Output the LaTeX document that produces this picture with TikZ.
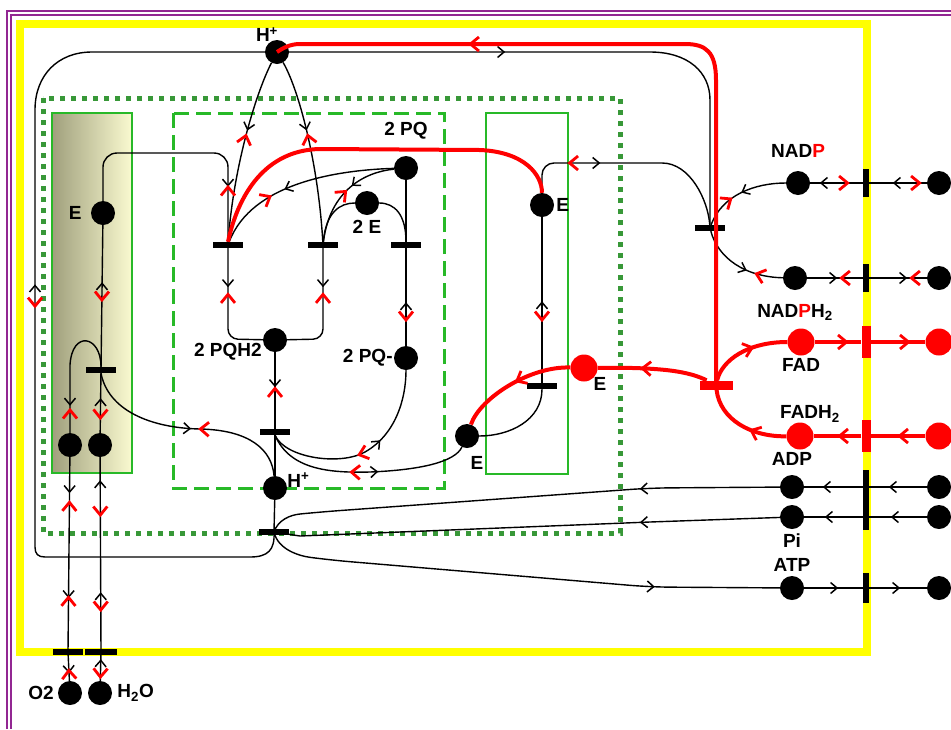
\documentclass[tikz,border=0pt]{standalone}
\usepackage{fontspec}
\setmainfont{Liberation Sans}
\usepackage{xcolor}
\usetikzlibrary{arrows.meta, positioning, backgrounds, decorations.markings}

\definecolor{memyellow}{RGB}{255,255,0}
\definecolor{frameviolet}{RGB}{146,38,146}
\definecolor{dotgreen}{RGB}{56,152,56}
\definecolor{boxgreen}{RGB}{40,185,40}
\definecolor{oliveleft}{RGB}{160,160,125}
\definecolor{oliveright}{RGB}{250,250,208}

\tikzset{
    placenode/.style={circle, fill=black, minimum size=24pt, inner sep=0pt},
    redplace/.style={circle, fill=red, minimum size=27pt, inner sep=0pt},
    transbar/.style={rectangle, fill=black, minimum width=30pt, minimum height=6pt, inner sep=0pt},
    membar/.style={rectangle, fill=black, minimum width=6pt, minimum height=28pt, inner sep=0pt},
    redbar/.style={rectangle, fill=red, minimum width=9pt, minimum height=32pt, inner sep=0pt},
    lbl/.style={inner sep=0pt, font=\fontsize{19}{21}\selectfont\bfseries},
    bk/.tip={Straight Barb[length=6.5pt, width=11pt, line width=1.5pt, color=black]},
    rd/.tip={Straight Barb[length=8.5pt, width=14pt, line width=2.8pt, color=red]},
    fwdb/.style={postaction={decorate, decoration={markings, mark=at position #1 with {\arrow{bk}}}}},
    bkwb/.style={postaction={decorate, decoration={markings, mark=at position #1 with {\arrowreversed{bk}}}}},
    fwdr/.style={postaction={decorate, decoration={markings, mark=at position #1 with {\arrow{rd}}}}},
    bkwr/.style={postaction={decorate, decoration={markings, mark=at position #1 with {\arrowreversed{rd}}}}}
}

\begin{document}
\begin{tikzpicture}[x=1pt, y=-1pt,
    arcb/.style={draw=black, line width=1.4pt},
    redarc/.style={draw=red, line width=4pt}]

    \useasboundingbox (0,0) rectangle (951,729);

    % places
    \node (hplus) [placenode] at (277,52) {};
    \node (eleft) [placenode] at (103,213) {};
    \node (o2in) [placenode] at (70,445) {};
    \node (h2oin) [placenode] at (100,445) {};
    \node (o2) [placenode] at (70,693) {};
    \node (h2o) [placenode] at (100,693) {};
    \node (pq) [placenode] at (406,168) {};
    \node (twoe) [placenode] at (367,203) {};
    \node (pqh) [placenode] at (275,340) {};
    \node (pqm) [placenode] at (406,358) {};
    \node (hlow) [placenode] at (275,488) {};
    \node (eright) [placenode] at (542,205) {};
    \node (elow) [placenode] at (467,436) {};
    \node (ered) [redplace] at (584,368) {};
    \node (nadp) [placenode] at (798,183) {};
    \node (nadpout) [placenode] at (939,183) {};
    \node (nadph) [placenode] at (795,278) {};
    \node (nadphout) [placenode] at (939,278) {};
    \node (fad) [redplace] at (801,342) {};
    \node (fadout) [redplace] at (939,342) {};
    \node (fadh) [redplace] at (800,436) {};
    \node (fadhout) [redplace] at (939,436) {};
    \node (adp) [placenode] at (792,487) {};
    \node (adpout) [placenode] at (939,487) {};
    \node (pi) [placenode] at (792,517) {};
    \node (piout) [placenode] at (939,517) {};
    \node (atp) [placenode] at (792,588) {};
    \node (atpout) [placenode] at (939,588) {};

    % transitions
    \node (tleft) [transbar] at (101,370) {};
    \node (tq1) [transbar] at (228,245) {};
    \node (tq2) [transbar] at (323,245) {};
    \node (tq3) [transbar] at (406,245) {};
    \node (tpqh) [transbar] at (275,432) {};
    \node (tatp) [transbar] at (274,532) {};
    \node (tcyt) [transbar] at (542,386) {};
    \node (tnadp) [transbar] at (710,228) {};
    \node (tfad) [transbar, fill=red, minimum width=33pt, minimum height=9pt] at (716,385) {};
    \node (mnadp) [membar] at (866,183) {};
    \node (mnadph) [membar] at (866,278) {};
    \node (mfad) [redbar] at (866,342) {};
    \node (mfadh) [redbar] at (866,436) {};
    \node (madp) [membar, minimum height=60pt] at (866,500) {};
    \node (matp) [membar, minimum height=30pt] at (866,588) {};
    \node (mo2) [transbar] at (68,652) {};
    \node (mh2o) [transbar, minimum width=32pt] at (101,652) {};

    % labels
    \node [lbl, above=-2pt of hplus, xshift=-10pt] {H\textsuperscript{+}};
    \node [lbl, left=9pt of eleft] {E};
    \node [lbl, left=4pt of o2] {O2};
    \node [lbl, right=5pt of h2o] {H\textsubscript{2}O};
    \node [lbl, above=16pt of pq] {2 PQ};
    \node [lbl, below=5pt of twoe] {2 E};
    \node [lbl, left=1pt of pqh, yshift=-12pt] {2 PQH2};
    \node [lbl, left=1pt of pqm] {2 PQ-};
    \node [lbl, right=0pt of hlow, yshift=8pt] {H\textsuperscript{+}};
    \node [lbl, right=2pt of eright] {E};
    \node [lbl, below=8pt of elow, xshift=10pt] {E};
    \node [lbl, below=-4pt of ered, xshift=16pt] {E};
    \node [lbl, above=13pt of nadp] {NAD\textcolor{red}{P}};
    \node [lbl, below=14pt of nadph] {NAD\textcolor{red}{P}H\textsubscript{2}};
    \node [lbl, below=3pt of fad] {FAD};
    \node [lbl, above=0pt of fadh, xshift=10pt] {FADH\textsubscript{2}};
    \node [lbl, above=9pt of adp] {ADP};
    \node [lbl, below=4pt of pi] {Pi};
    \node [lbl, above=4pt of atp] {ATP};

    \begin{scope}[on background layer]
        % frames
        \draw[frameviolet, line width=2.5pt, double=white, double distance=1.5pt] (9,729) -- (9,13) -- (951,13);
        \draw[memyellow, line width=8pt] (20,24) rectangle (867,652);
        % compartments
        \draw[dotgreen, line width=5pt, dash pattern=on 5pt off 6pt] (43,98) rectangle (620,533);
        \path[draw=boxgreen, line width=2pt, left color=oliveleft, right color=oliveright] (52,113) rectangle (132,473);
        \draw[boxgreen, line width=2pt] (486,113) rectangle (568,474);
        \draw[boxgreen, line width=3pt, dash pattern=on 15pt off 7pt] (173,113) rectangle (444,488);

        % proton loop
        \draw[arcb, fwdb=525pt, bkwr=501pt] (tatp.center) .. controls (275,550) and (268,557) .. (250,557) -- (45,557) .. controls (38,557) and (35,554) .. (35,547) -- (35,110) .. controls (35,75) and (58,52) .. (92,52) -- (hplus);
        \draw[arcb, fwdb=216pt] (hplus) -- (650,52) .. controls (688,52) and (710,72) .. (710,100) -- (tnadp);
        % H+ into the quinone cycle
        \draw[arcb, fwdb=72pt, bkwr=75pt] (hplus) .. controls (255,95) and (233,170) .. (tq1);
        \draw[arcb, fwdb=72pt, bkwr=75pt] (hplus) .. controls (298,88) and (318,160) .. (tq2);
        % left complex
        \draw[arcb, rounded corners=14pt, fwdb=-55pt, bkwr=-57pt] (eleft) -- (103,153) -- (228,153) -- (tq1);
        \draw[arcb, bkwb=57pt, fwdr=77pt] (eleft) -- (tleft);
        \draw[arcb, fwdb=-27pt, bkwr=-25pt] (tleft.north) .. controls (101,335) and (72,330) .. (70,365) -- (o2in);
        \draw[arcb, bkwb=25pt, fwdr=47pt] (tleft) -- (h2oin);
        \draw[arcb, fwdb=114pt, bkwr=121pt] (tleft.south) .. controls (108,410) and (150,428) .. (200,429) .. controls (250,430) and (272,450) .. (hlow);
        % quinone cycle
        \draw[arcb, rounded corners=10pt, bkwb=-39pt, fwdr=-44pt] (pqh) -- (228,339) -- (tq1);
        \draw[arcb, rounded corners=10pt, bkwb=-39pt, fwdr=-44pt] (pqh) -- (323,339) -- (tq2);
        \draw[arcb, fwdb=35pt, bkwr=34pt] (pqh) -- (tpqh);
        \draw[arcb] (tpqh) -- (hlow);
        \draw[arcb, bkwr=90pt, fwdb=118pt] (tpqh.south) .. controls (285,458) and (340,466) .. (365,452) .. controls (395,435) and (406,400) .. (pqm);
        \draw[arcb, bkwr=88pt, fwdb=117pt] (tpqh.south) .. controls (290,470) and (330,473) .. (370,472) .. controls (420,470) and (455,462) .. (elow);
        \draw[arcb, fwdb=112pt, bkwr=126pt] (pq) .. controls (340,170) and (252,182) .. (tq1);
        \draw[arcb, fwdb=46pt, bkwr=52pt] (pq) .. controls (365,172) and (330,190) .. (tq2);
        \draw[arcb] (tq2) .. controls (326,212) and (340,203) .. (twoe);
        \draw[arcb] (twoe) .. controls (395,203) and (406,215) .. (tq3);
        \draw[arcb] (pq) -- (tq3);
        \draw[arcb, bkwb=54pt, fwdr=74pt] (tq3) -- (pqm);
        % cytochrome complex
        \draw[arcb] (elow) .. controls (510,436) and (542,420) .. (tcyt);
        \draw[arcb, bkwb=84pt, fwdr=105pt] (eright) -- (tcyt);
        \draw[arcb, rounded corners=12pt, bkwr=50pt, fwdb=83pt] (eright) -- (542,163) -- (650,163) .. controls (690,163) and (708,200) .. (tnadp);
        % NADP reduction
        \draw[arcb, fwdb=46pt, bkwr=56pt] (nadp) .. controls (755,183) and (722,195) .. (tnadp);
        \draw[arcb, fwdb=-37pt, bkwr=-29pt] (tnadp) .. controls (718,258) and (745,277) .. (nadph);
        \draw[arcb, fwdb=34pt, bkwr=5pt] (nadpout) -- (mnadp);
        \draw[arcb, fwdb=43pt, bkwr=13pt] (mnadp) -- (nadp);
        \draw[arcb, fwdb=30pt, bkwr=32pt] (nadph) -- (mnadph);
        \draw[arcb, fwdb=38pt, bkwr=40pt] (mnadph) -- (nadphout);
        % ATP synthase
        \draw[arcb] (hlow) -- (tatp);
        \draw[arcb, rounded corners=20pt, fwdb=140pt] (adp) -- (650,488) -- (320,512) .. controls (290,515) and (278,520) .. (tatp.center);
        \draw[arcb, fwdb=140pt] (pi) -- (650,522) -- (300,536) -- (tatp.center);
        \draw[arcb, rounded corners=20pt, fwdb=-125pt] (tatp.center) .. controls (278,550) and (300,556) .. (330,560) -- (650,587) -- (atp);
        \draw[arcb, fwdb=38pt] (adpout) -- (adpout -| madp.east);
        \draw[arcb, fwdb=40pt] (adp -| madp.west) -- (adp);
        \draw[arcb, fwdb=36pt] (piout) -- (piout -| madp.east);
        \draw[arcb, fwdb=38pt] (pi -| madp.west) -- (pi);
        \draw[arcb, fwdb=34pt] (atp) -- (matp);
        \draw[arcb, fwdb=31pt] (matp) -- (atpout);
        % oxygen and water
        \draw[arcb, fwdb=36pt, bkwr=43pt, fwdb=141pt, bkwr=138pt] (o2in) -- (mo2);
        \draw[arcb, fwdb=18pt, bkwr=13pt] (mo2) -- (o2);
        \draw[arcb, bkwb=23pt, fwdr=60pt, bkwb=135pt, fwdr=155pt] (h2oin) -- (mh2o);
        \draw[arcb, bkwb=4pt, fwdr=24pt] (mh2o) -- (h2o);
    \end{scope}

    % electron flow
    \draw[redarc] (tq1.north) .. controls (238,195) and (265,150) .. (320,149) -- (480,150) .. controls (525,152) and (542,175) .. (eright.north);
    \draw[redarc, fwdr=-193pt] (tfad.center) -- (716,80) .. controls (716,52) and (706,44) .. (685,44) -- (300,44) .. controls (290,44) and (283,48) .. (hplus.center);
    \draw[redarc, fwdr=68pt] (tfad) .. controls (690,372) and (665,367) .. (ered);
    \draw[redarc, fwdr=58pt] (ered) .. controls (530,366) and (480,398) .. (elow);
    \draw[redarc, fwdr=52pt] (tfad) .. controls (722,360) and (748,342) .. (fad);
    \draw[redarc, fwdr=38pt] (fadh) .. controls (752,437) and (720,420) .. (tfad);
    \draw[redarc, fwdr=34pt] (fad) -- (mfad);
    \draw[redarc, fwdr=40pt] (mfad) -- (fadout);
    \draw[redarc, fwdr=28pt] (fadhout) -- (mfadh);
    \draw[redarc, fwdr=24pt] (mfadh) -- (fadh);

\end{tikzpicture}
\end{document}
